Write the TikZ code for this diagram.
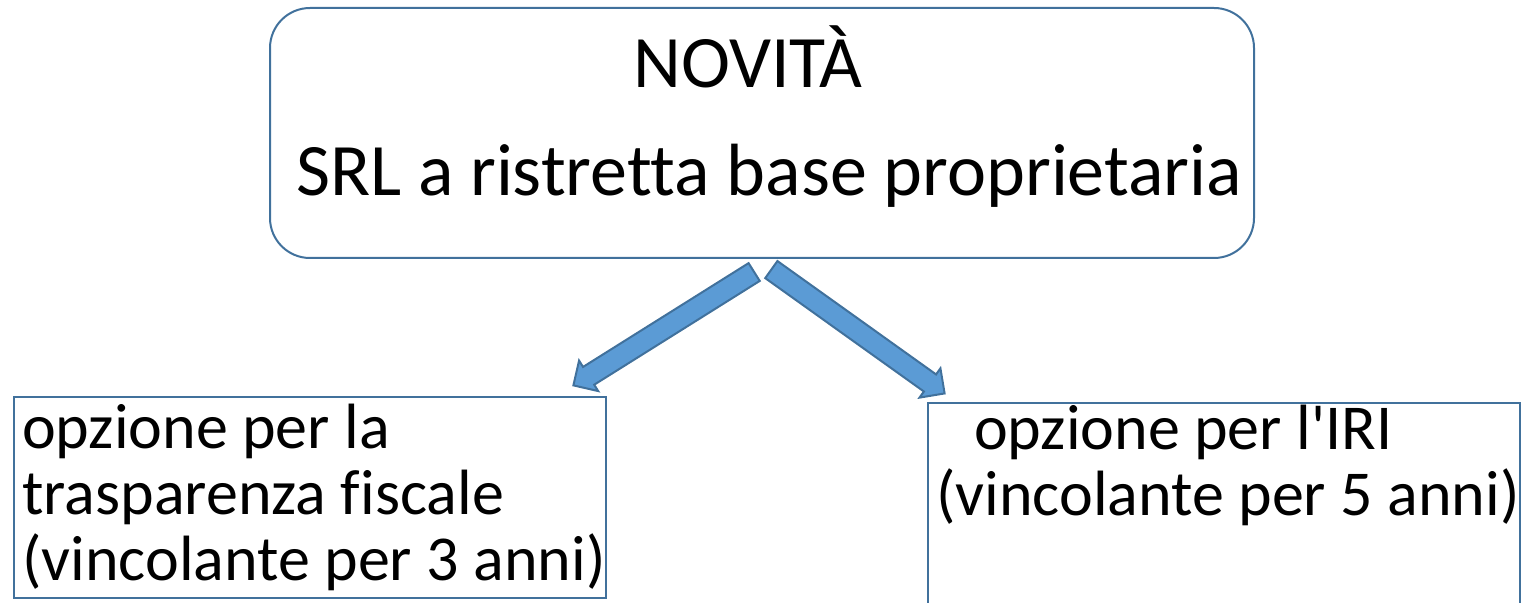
\documentclass[tikz,border=0pt]{standalone}
\usepackage{fontspec}
\newfontfamily\calibri{Carlito}[Ligatures=NoCommon]
\usetikzlibrary{shapes.arrows,calc}
\definecolor{boxline}{RGB}{65,113,156}
\definecolor{arrowfill}{RGB}{91,155,213}
\newcommand{\indentline}{\hspace*{4pt}}
\begin{document}
\begin{tikzpicture}[x=0.5pt,y=-0.5pt,
    box/.style={draw=boxline, line width=1pt},
    option/.style={box, minimum width=295pt, minimum height=100.5pt, align=left,
      inner sep=0pt, font=\calibri\fontsize{32}{33}\selectfont},
    blockarrow/.style={single arrow, draw=boxline, fill=arrowfill, line width=1pt,
      inner sep=4.75pt, single arrow head extend=3.75pt}]
  \useasboundingbox (0,0) rectangle (1524,603);
  \clip (0,0) rectangle (1524,603);
  % top box
  \node[box, rounded corners=20pt, minimum width=492pt, minimum height=125pt,
    align=center, font=\calibri\fontsize{37}{54}\selectfont] (novita) at (762,133)
    {NOVITÀ\hspace*{14pt}\\ \hspace*{7pt}SRL a ristretta base proprietaria\\[-32pt] \mbox{}};
  % the two options
  \node[option] (trasp) at (310,497.5)
    {\indentline opzione per la\\ \indentline trasparenza fiscale\\
     \indentline (vincolante per 3 anni)};
  \node[option] (iri) at (1224,503.5)
    {\hspace*{23pt}opzione per l'IRI\\ \indentline (vincolante per 5 anni)\\[10pt] \mbox{}};
  % block arrows
  \coordinate (srcL) at (755,271.5);
  \coordinate (dstL) at (574,385);
  \coordinate (srcR) at (770.5,269);
  \coordinate (dstR) at (944,393);
  \path let \p1=($(dstL)-(srcL)$) in
    node[blockarrow, rotate={atan2(\y1,\x1)}, minimum height={veclen(\x1,\y1)},
      anchor=tail] at (srcL) {};
  \path let \p1=($(dstR)-(srcR)$) in
    node[blockarrow, rotate={atan2(\y1,\x1)}, minimum height={veclen(\x1,\y1)},
      anchor=tail] at (srcR) {};
\end{tikzpicture}
\end{document}
